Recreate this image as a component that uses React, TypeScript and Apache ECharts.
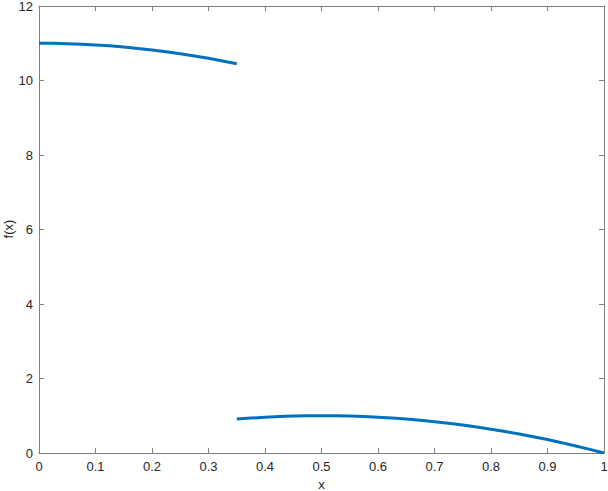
import React, { useEffect, useRef } from "react";
import * as echarts from "echarts";

const xTicks = [0, 0.1, 0.2, 0.3, 0.4, 0.5, 0.6, 0.7, 0.8, 0.9, 1];
const yTicks = [0, 2, 4, 6, 8, 10, 12];
const xName = "x";
const yName = "f(x)";

const seg1X = [0, 0.025, 0.05, 0.075, 0.1, 0.125, 0.15, 0.175, 0.2, 0.225, 0.25, 0.275, 0.3, 0.325, 0.35];
const seg1Y = [11, 10.997, 10.989, 10.975, 10.955, 10.93, 10.899, 10.862, 10.82, 10.772, 10.719, 10.66, 10.595, 10.525, 10.449];

const seg2X = [0.35, 0.375, 0.4, 0.425, 0.45, 0.475, 0.5, 0.525, 0.55, 0.575, 0.6, 0.625, 0.65, 0.675, 0.7, 0.725, 0.75, 0.775, 0.8, 0.825, 0.85, 0.875, 0.9, 0.925, 0.95, 0.975, 1];
const seg2Y = [0.91, 0.9375, 0.96, 0.9775, 0.99, 0.9975, 1, 0.9975, 0.99, 0.9775, 0.96, 0.9375, 0.91, 0.8775, 0.84, 0.7975, 0.75, 0.6975, 0.64, 0.5775, 0.51, 0.4375, 0.36, 0.2775, 0.19, 0.0975, 0];

const LINE_COLOR = "#0072BD";
const AXIS_COLOR = "#808080";
const TEXT_COLOR = "#262626";
const FONT = "'Liberation Sans', Arial, Helvetica, sans-serif";

export default function App() {
  const ref = useRef<HTMLDivElement>(null);
  useEffect(() => {
    document.body.style.margin = "0";
    if (!ref.current) return;
    const chart = echarts.init(ref.current, null, { renderer: "svg" });
    const axisLine = { show: true, onZero: false, lineStyle: { color: AXIS_COLOR, width: 1 } };
    const axisTick = { show: true, inside: true, length: 5, lineStyle: { color: AXIS_COLOR, width: 1 } };
    const fmt = (v: number) => String(Math.round(v * 10) / 10);
    chart.setOption({
      animation: false,
      backgroundColor: "#ffffff",
      grid: { left: 39, right: 4, top: 6, bottom: 38, containLabel: false, outerBoundsMode: "none" },
      graphic: [
        {
          type: "text",
          x: 8,
          y: 229,
          rotation: Math.PI / 2,
          style: {
            text: yName,
            fill: TEXT_COLOR,
            fontSize: 13,
            fontFamily: FONT,
            align: "center",
            verticalAlign: "middle",
          },
        },
      ],
      xAxis: [
        {
          type: "value",
          min: xTicks[0],
          max: xTicks[xTicks.length - 1],
          interval: 0.1,
          position: "bottom",
          axisLine,
          axisTick,
          splitLine: { show: false },
          axisLabel: { color: TEXT_COLOR, fontSize: 13, fontFamily: FONT, margin: 7, formatter: fmt },
          name: xName,
          nameLocation: "middle",
          nameGap: 24,
          nameTextStyle: { color: TEXT_COLOR, fontSize: 13, fontFamily: FONT },
        },
        {
          type: "value",
          min: xTicks[0],
          max: xTicks[xTicks.length - 1],
          interval: 0.1,
          position: "top",
          axisLine,
          axisTick,
          splitLine: { show: false },
          axisLabel: { show: false },
        },
      ],
      yAxis: [
        {
          type: "value",
          min: yTicks[0],
          max: yTicks[yTicks.length - 1],
          interval: 2,
          position: "left",
          axisLine,
          axisTick,
          splitLine: { show: false },
          axisLabel: { color: TEXT_COLOR, fontSize: 13, fontFamily: FONT, margin: 6 },
        },
        {
          type: "value",
          min: yTicks[0],
          max: yTicks[yTicks.length - 1],
          interval: 2,
          position: "right",
          axisLine,
          axisTick,
          splitLine: { show: false },
          axisLabel: { show: false },
        },
      ],
      series: [
        {
          type: "line",
          data: seg1X.map((x, i) => [x, seg1Y[i]]),
          showSymbol: false,
          smooth: false,
          clip: false,
          lineStyle: { color: LINE_COLOR, width: 3 },
          itemStyle: { color: LINE_COLOR },
        },
        {
          type: "line",
          data: seg2X.map((x, i) => [x, seg2Y[i]]),
          showSymbol: false,
          smooth: false,
          clip: true,
          lineStyle: { color: LINE_COLOR, width: 3 },
          itemStyle: { color: LINE_COLOR },
        },
      ],
    });
    return () => chart.dispose();
  }, []);
  return <div ref={ref} style={{ width: 608, height: 491, position: "fixed", left: 0, top: 0 }} />;
}
